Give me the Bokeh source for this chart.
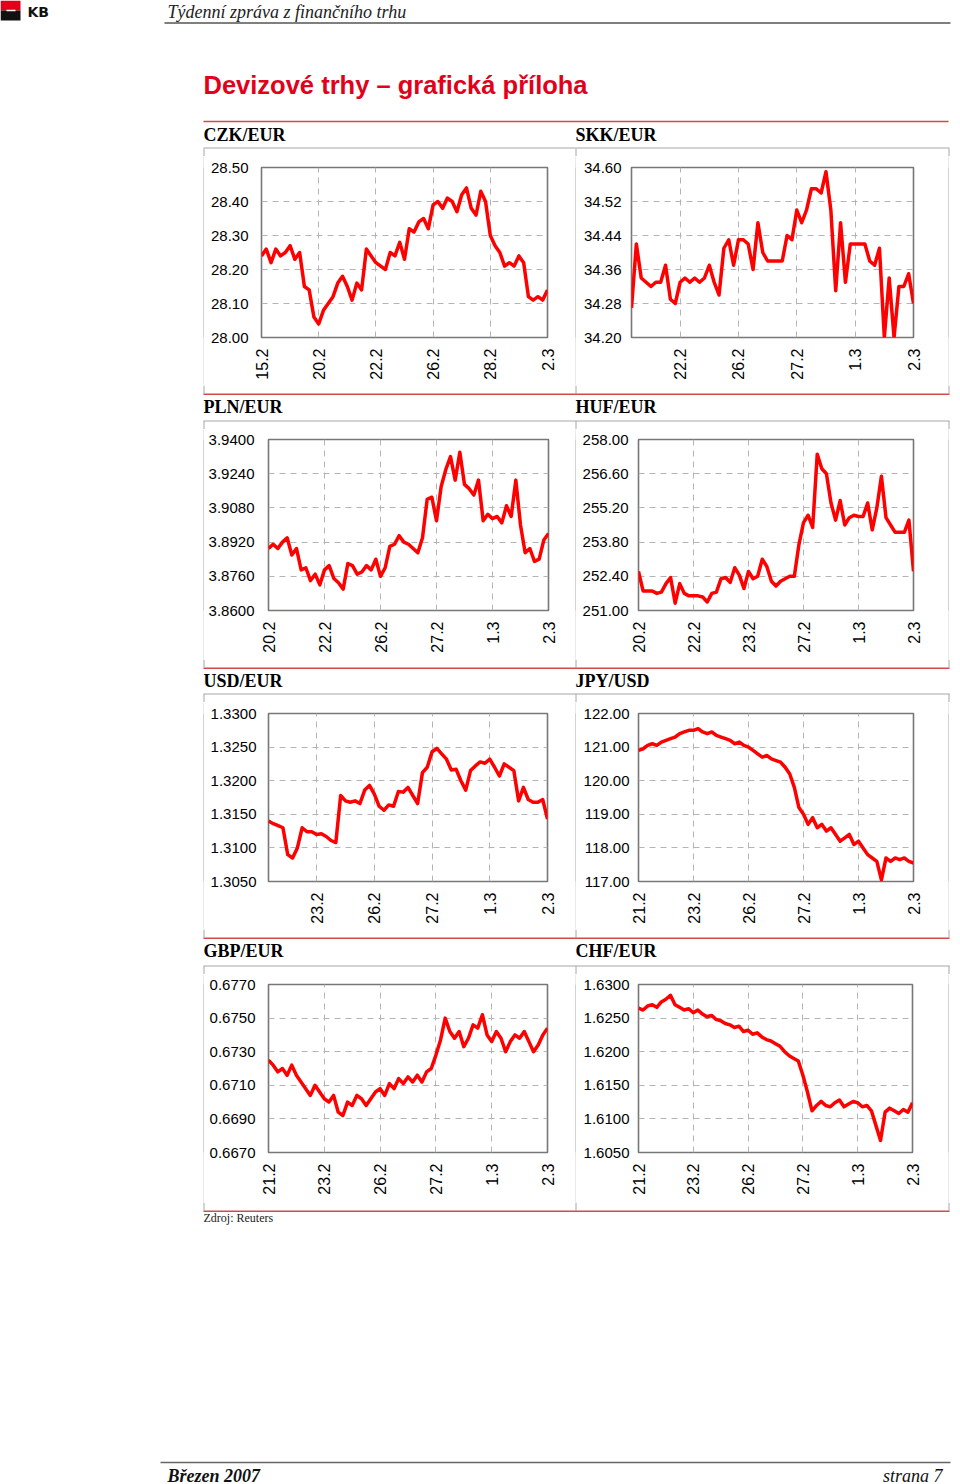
import math
from bokeh.plotting import figure
from bokeh.layouts import column, row
from bokeh.models import Range1d, FixedTicker, NumeralTickFormatter
from bokeh.core.properties import value
from bokeh.embed import file_html
from bokeh.resources import INLINE

# ---------------- data ----------------
czk_eur = [28.24, 28.26, 28.22, 28.26, 28.24, 28.25, 28.27, 28.23, 28.25, 28.15,
           28.14, 28.06, 28.04, 28.08, 28.10, 28.12, 28.16, 28.18, 28.15, 28.11,
           28.16, 28.14, 28.26, 28.24, 28.22, 28.21, 28.20, 28.25, 28.24, 28.28,
           28.23, 28.32, 28.31, 28.34, 28.35, 28.32, 28.39, 28.40, 28.38, 28.41,
           28.40, 28.37, 28.42, 28.44, 28.38, 28.36, 28.43, 28.40, 28.30, 28.27,
           28.25, 28.21, 28.22, 28.21, 28.24, 28.22, 28.12, 28.11, 28.12, 28.11,
           28.14]
skk_eur = [34.27, 34.42, 34.34, 34.33, 34.32, 34.33, 34.33, 34.37, 34.29, 34.28,
           34.33, 34.34, 34.33, 34.34, 34.33, 34.34, 34.37, 34.33, 34.30, 34.41,
           34.43, 34.37, 34.43, 34.43, 34.42, 34.36, 34.47, 34.40, 34.38, 34.38,
           34.38, 34.38, 34.44, 34.43, 34.50, 34.47, 34.50, 34.55, 34.55, 34.54,
           34.59, 34.50, 34.31, 34.47, 34.33, 34.42, 34.42, 34.42, 34.42, 34.38,
           34.37, 34.41, 34.20, 34.34, 34.20, 34.32, 34.32, 34.35, 34.28]
pln_eur = [3.889, 3.891, 3.889, 3.892, 3.894, 3.886, 3.889, 3.879, 3.880, 3.874,
           3.877, 3.872, 3.879, 3.881, 3.875, 3.873, 3.870, 3.882, 3.881, 3.877,
           3.878, 3.881, 3.879, 3.884, 3.876, 3.880, 3.890, 3.891, 3.895, 3.892,
           3.891, 3.889, 3.887, 3.894, 3.912, 3.913, 3.902, 3.918, 3.926, 3.932,
           3.921, 3.934, 3.919, 3.917, 3.914, 3.921, 3.902, 3.905, 3.903, 3.904,
           3.901, 3.909, 3.904, 3.921, 3.900, 3.887, 3.889, 3.883, 3.884, 3.893,
           3.896]
huf_eur = [252.6, 251.8, 251.8, 251.8, 251.7, 251.75, 252.1, 252.35, 251.3, 252.1,
           251.7, 251.6, 251.6, 251.6, 251.55, 251.35, 251.7, 251.75, 252.3, 252.35,
           252.15, 252.75, 252.45, 251.9, 252.6, 252.3, 252.4, 253.1, 252.8, 252.2,
           252.0, 252.2, 252.3, 252.4, 252.4, 253.7, 254.6, 254.9, 254.4, 257.4,
           256.8, 256.6, 255.4, 254.7, 255.5, 254.5, 254.8, 254.9, 254.85, 254.85,
           255.4, 254.3, 255.2, 256.5, 254.8, 254.5, 254.2, 254.2, 254.2, 254.7,
           252.6]
usd_eur = [1.3140, 1.3136, 1.3133, 1.3130, 1.3090, 1.3085, 1.3100, 1.3130, 1.3124, 1.3124,
           1.3120, 1.3121, 1.3117, 1.3111, 1.3108, 1.3178, 1.3170, 1.3168, 1.3170, 1.3166,
           1.3186, 1.3193, 1.3180, 1.3162, 1.3156, 1.3164, 1.3162, 1.3184, 1.3183, 1.3190,
           1.3178, 1.3166, 1.3212, 1.3220, 1.3243, 1.3248, 1.3240, 1.3232, 1.3216, 1.3217,
           1.3200, 1.3186, 1.3215, 1.3222, 1.3228, 1.3226, 1.3232, 1.3220, 1.3207, 1.3225,
           1.3220, 1.3215, 1.3170, 1.3190, 1.3172, 1.3168, 1.3168, 1.3172, 1.3143]
jpy_usd = [120.90, 120.95, 121.05, 121.10, 121.05, 121.15, 121.20, 121.25, 121.30, 121.40,
           121.45, 121.50, 121.50, 121.55, 121.45, 121.40, 121.45, 121.35, 121.30, 121.25,
           121.20, 121.10, 121.15, 121.05, 121.00, 120.90, 120.80, 120.70, 120.75, 120.65,
           120.60, 120.55, 120.40, 120.20, 119.80, 119.20, 119.00, 118.70, 118.90, 118.60,
           118.70, 118.50, 118.60, 118.40, 118.20, 118.30, 118.40, 118.10, 118.20, 118.00,
           117.80, 117.70, 117.60, 117.05, 117.70, 117.60, 117.70, 117.65, 117.70, 117.60,
           117.55]
gbp_eur = [0.6725, 0.6722, 0.6718, 0.6720, 0.6716, 0.6722, 0.6716, 0.6712, 0.6708, 0.6704,
           0.6710, 0.6706, 0.6702, 0.6700, 0.6704, 0.6694, 0.6692, 0.6700, 0.6698, 0.6704,
           0.6702, 0.6698, 0.6702, 0.6706, 0.6708, 0.6704, 0.6711, 0.6708, 0.6714, 0.6711,
           0.6715, 0.6712, 0.6716, 0.6712, 0.6718, 0.6720, 0.6728, 0.6737, 0.6750, 0.6742,
           0.6738, 0.6742, 0.6733, 0.6738, 0.6746, 0.6744, 0.6752, 0.6740, 0.6736, 0.6742,
           0.6738, 0.6730, 0.6736, 0.6740, 0.6738, 0.6742, 0.6736, 0.6730, 0.6734, 0.6740,
           0.6744]
chf_eur = [1.6265, 1.6262, 1.6268, 1.6270, 1.6266, 1.6274, 1.6278, 1.6284, 1.6270, 1.6266,
           1.6262, 1.6264, 1.6258, 1.6262, 1.6256, 1.6252, 1.6254, 1.6248, 1.6246, 1.6242,
           1.6240, 1.6236, 1.6238, 1.6230, 1.6232, 1.6226, 1.6228, 1.6222, 1.6218, 1.6216,
           1.6212, 1.6208, 1.6200, 1.6194, 1.6190, 1.6186, 1.6165, 1.6140, 1.6112, 1.6120,
           1.6126, 1.6120, 1.6118, 1.6124, 1.6128, 1.6118, 1.6122, 1.6126, 1.6124, 1.6118,
           1.6120, 1.6112, 1.6090, 1.6068, 1.6110, 1.6116, 1.6112, 1.6108, 1.6114, 1.6110,
           1.6124]

# first index of each series (date label k sits at index 12*k)
czk_start, skk_start, pln_start, huf_start = 0, -10, 0, 0
usd_start, jpy_start, gbp_start, chf_start = -10, 0, 0, 0

czk_dates = ["15.2", "20.2", "22.2", "26.2", "28.2", "2.3"]
skk_dates = ["22.2", "26.2", "27.2", "1.3", "2.3"]
pln_dates = ["20.2", "22.2", "26.2", "27.2", "1.3", "2.3"]
huf_dates = ["20.2", "22.2", "23.2", "27.2", "1.3", "2.3"]
usd_dates = ["23.2", "26.2", "27.2", "1.3", "2.3"]
jpy_dates = ["21.2", "23.2", "26.2", "27.2", "1.3", "2.3"]
gbp_dates = ["21.2", "23.2", "26.2", "27.2", "1.3", "2.3"]
chf_dates = ["21.2", "23.2", "26.2", "27.2", "1.3", "2.3"]

czk_ticks = [28.00, 28.10, 28.20, 28.30, 28.40, 28.50]
skk_ticks = [34.20, 34.28, 34.36, 34.44, 34.52, 34.60]
pln_ticks = [3.8600, 3.8760, 3.8920, 3.9080, 3.9240, 3.9400]
huf_ticks = [251.00, 252.40, 253.80, 255.20, 256.60, 258.00]
usd_ticks = [1.3050, 1.3100, 1.3150, 1.3200, 1.3250, 1.3300]
jpy_ticks = [117.00, 118.00, 119.00, 120.00, 121.00, 122.00]
gbp_ticks = [0.6670, 0.6690, 0.6710, 0.6730, 0.6750, 0.6770]
chf_ticks = [1.6050, 1.6100, 1.6150, 1.6200, 1.6250, 1.6300]

pair_names = ["CZK/EUR", "SKK/EUR", "PLN/EUR", "HUF/EUR",
              "USD/EUR", "JPY/USD", "GBP/EUR", "CHF/EUR"]

RED = "#ff0000"
RULE_RED = "#d24a4a"
CELL_GREY = "#a6a6a6"
SERIF = "Liberation Serif"
SANS = "Liberation Sans"
CELL_X = [203.5, 575.5, 948.5]


def blank(w, h, fill="white"):
    p = figure(width=w, height=h, x_range=Range1d(0, w), y_range=Range1d(h, 0),
               toolbar_location=None, output_backend="svg", min_border=0,
               x_axis_location=None, y_axis_location=None,
               outline_line_color=None, background_fill_color=fill,
               border_fill_color=fill)
    p.xgrid.visible = False
    p.ygrid.visible = False
    return p


def add_text(p, x, y, s, font=SERIF, size="18px", style="normal", color="black",
             align="left"):
    p.text(x=[x], y=[y], text=[s], text_font=value(font), text_font_size=size,
           text_font_style=style, text_color=color, text_align=align,
           text_baseline="middle")


def hline(p, x0, x1, y, color, width=1.0):
    p.segment(x0=[x0], y0=[y], x1=[x1], y1=[y], line_color=color, line_width=width)


def vsegs(p, y0, y1):
    p.segment(x0=CELL_X, y0=[y0] * 3, x1=CELL_X, y1=[y1] * 3,
              line_color=CELL_GREY, line_width=1)


def chart(vals, start, dates, yticks, yfmt, lay):
    w, h, ml, mr, mt, mb, standoff = lay
    xs = list(range(start, start + len(vals)))
    xt = [12 * k for k in range(len(dates))]
    p = figure(width=w, height=h, x_range=Range1d(xs[0], xs[-1]),
               y_range=Range1d(yticks[0], yticks[-1]),
               toolbar_location=None, output_backend="svg",
               min_border_left=ml, min_border_right=mr,
               min_border_top=mt, min_border_bottom=mb,
               outline_line_color="#777777", outline_line_width=1.6,
               background_fill_color="white", border_fill_color="white")
    p.line(xs, vals, line_color=RED, line_width=3.5, line_join="round")
    p.xaxis.ticker = FixedTicker(ticks=xt)
    p.xaxis.major_label_overrides = {t: d for t, d in zip(xt, dates)}
    p.xaxis.major_label_orientation = math.pi / 2
    p.xaxis.major_label_standoff = 5
    p.xaxis.major_label_text_font_size = "16px"
    p.yaxis.ticker = FixedTicker(ticks=yticks)
    p.yaxis.formatter = NumeralTickFormatter(format=yfmt)
    p.yaxis.major_label_standoff = standoff
    p.yaxis.major_label_text_font_size = "15px"
    p.axis.axis_line_color = None
    p.axis.major_tick_line_color = None
    p.axis.minor_tick_line_color = None
    p.axis.major_label_text_font = SANS
    p.axis.major_label_text_color = "black"
    p.grid.grid_line_color = "#b4b4b4"
    p.grid.grid_line_dash = "6 5"
    p.grid.grid_line_width = 1
    return p


def vline(h):
    return blank(1, h, fill=CELL_GREY)


# layout (w, h, min_left, min_right, min_top, min_bottom, y-label standoff)
f_czk = chart(czk_eur, czk_start, czk_dates, czk_ticks, "0.00", (371, 229, 57, 28, 11, 46, 7))
f_skk = chart(skk_eur, skk_start, skk_dates, skk_ticks, "0.00", (372, 229, 55, 35, 11, 48, 4))
f_pln = chart(pln_eur, pln_start, pln_dates, pln_ticks, "0.0000", (371, 230, 64, 27, 10, 46, 8))
f_huf = chart(huf_eur, huf_start, huf_dates, huf_ticks, "0.00", (372, 230, 62, 35, 10, 49, 4))
f_usd = chart(usd_eur, usd_start, usd_dates, usd_ticks, "0.0000", (371, 227, 64, 28, 11, 46, 6))
f_jpy = chart(jpy_usd, jpy_start, jpy_dates, jpy_ticks, "0.00", (372, 227, 62, 35, 10, 48, 3))
f_gbp = chart(gbp_eur, gbp_start, gbp_dates, gbp_ticks, "0.0000", (371, 228, 64, 28, 10, 47, 7))
f_chf = chart(chf_eur, chf_start, chf_dates, chf_ticks, "0.0000", (372, 228, 62, 36, 9, 50, 3))


def chart_row(left, right, h):
    return row(blank(203, h), vline(h), left, vline(h), right, vline(h), blank(11, h), spacing=0)


# ---- header strip (page y 0..156) ----
top = blank(960, 156)
top.quad(left=[0], right=[20], top=[0], bottom=[10], fill_color="#e2001a", line_color=None)
top.quad(left=[0], right=[20], top=[10], bottom=[20], fill_color="#111111", line_color=None)
hline(top, 6, 15, 10, "white", 1.5)
add_text(top, 27, 11, "KB", font="DejaVu Sans", size="14px", style="bold", color="#111111")
add_text(top, 167, 11, "Týdenní zpráva z finančního trhu", size="18px", style="italic", color="#222222")
hline(top, 164, 950, 22.5, "#555555", 1.3)
add_text(top, 203, 84, "Devizové trhy – grafická příloha", font=SANS, size="25.5px",
         style="bold", color="#e2001a")
hline(top, 203, 948, 121, RULE_RED, 1.5)
add_text(top, 203, 134, pair_names[0], style="bold")
add_text(top, 575, 134, pair_names[1], style="bold")
hline(top, 203, 949, 147.5, CELL_GREY, 1)
vsegs(top, 148, 156)


def label_strip(h, grey_y, n1, n2):
    s = blank(960, h)
    vsegs(s, 0, 8)
    hline(s, 203, 949, 8.75, RULE_RED, 1.5)
    add_text(s, 203, 21, n1, style="bold")
    add_text(s, 575, 21, n2, style="bold")
    hline(s, 203, 949, grey_y, CELL_GREY, 1)
    vsegs(s, grey_y, h)
    return s


s2 = label_strip(44, 35.5, pair_names[2], pair_names[3])
s3 = label_strip(43, 34.5, pair_names[4], pair_names[5])
s4 = label_strip(45, 36.5, pair_names[6], pair_names[7])

# ---- footer strip (page y 1202..1484) ----
foot = blank(960, 282)
vsegs(foot, 0, 8)
hline(foot, 203, 949, 8.75, RULE_RED, 1.5)
add_text(foot, 203, 15, "Zdroj: Reuters", size="12px", color="#222222")
hline(foot, 160, 950, 260, "#666666", 1.5)
add_text(foot, 167, 273, "Březen 2007", size="18px", style="bold italic", color="#111111")
add_text(foot, 942, 273, "strana 7", size="18px", style="italic", color="#111111", align="right")

page = column(top,
              chart_row(f_czk, f_skk, 229), s2,
              chart_row(f_pln, f_huf, 230), s3,
              chart_row(f_usd, f_jpy, 227), s4,
              chart_row(f_gbp, f_chf, 228), foot,
              spacing=0)

open("out.html", "w").write(file_html(page, INLINE))
